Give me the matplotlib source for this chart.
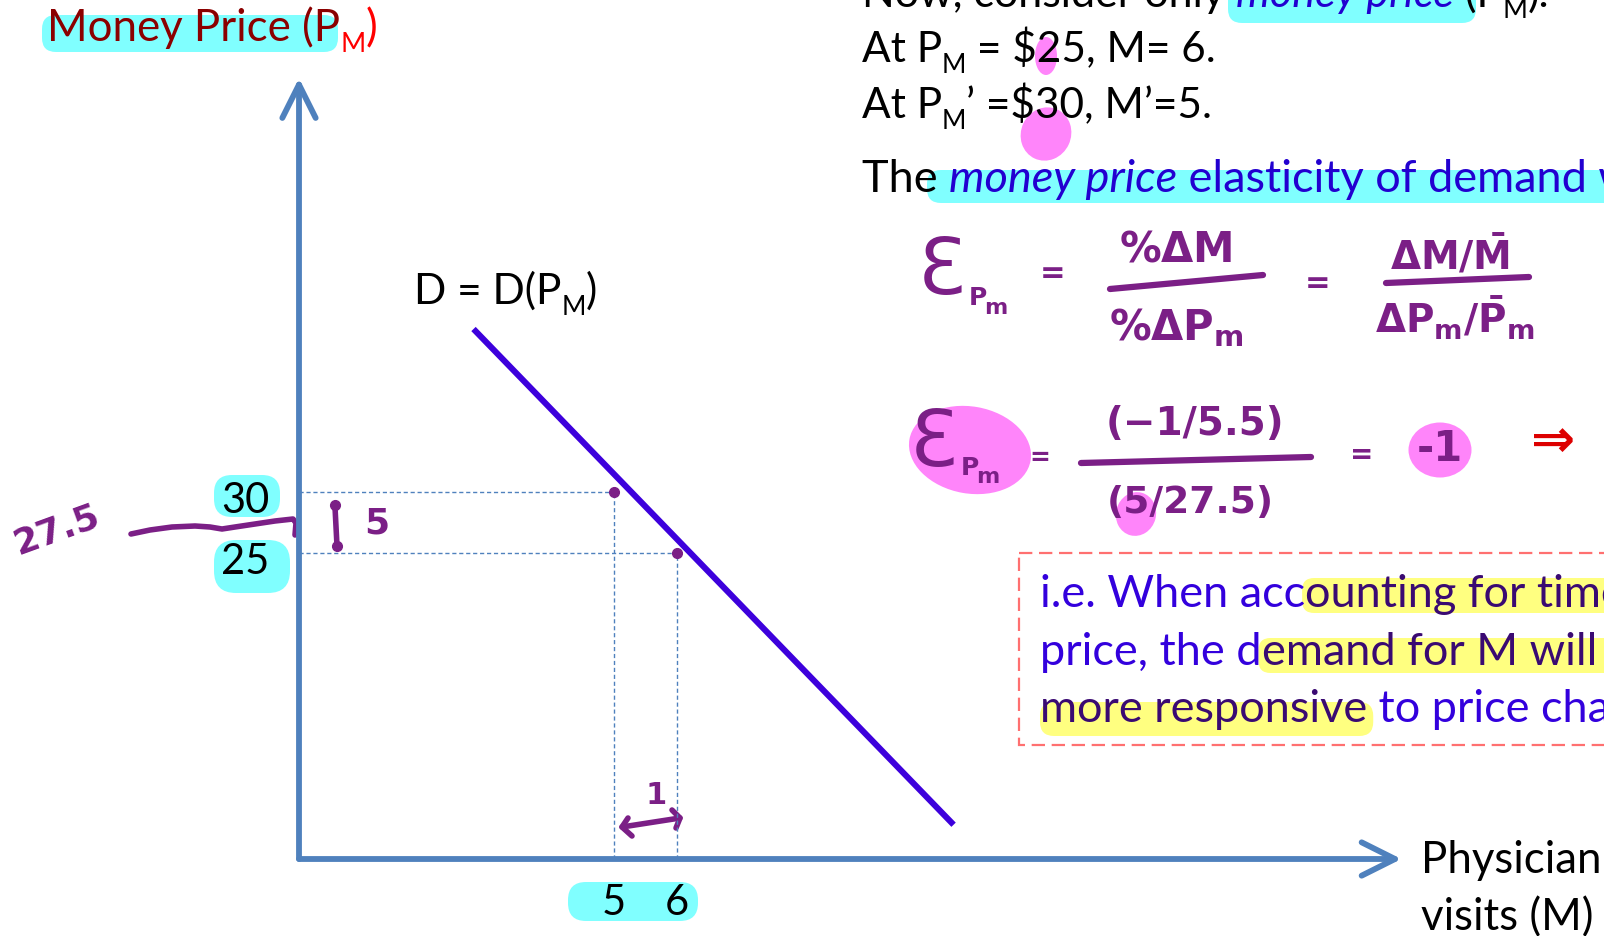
import matplotlib
matplotlib.use('Agg')
import matplotlib.pyplot as plt
from matplotlib.patches import FancyBboxPatch, Ellipse, Rectangle
from matplotlib.transforms import offset_copy

# demand for physician visits against the money price
visits = [5, 6]
prices = [30, 25]
demand_m = [2.77, 10.39]
demand_p = [43.3, 2.8]
axis_end_m = 17.5
axis_end_p = 63.8

AXIS = '#4F81BD'
DEMAND = '#3D00DC'
PEN = '#7B1F86'
CYAN = '#80FFFF'
PINK = '#FF85FA'
YELLOW = '#FFFF80'
BLUE = '#3300DD'
BLUE_HL = '#2200D0'
BLUE_YL = '#3A0A72'
FONT = 'Lato'

plt.rcParams['mathtext.fontset'] = 'dejavusans'

W, H = 1604, 936
fig = plt.figure(figsize=(W / 100, H / 100), dpi=100)

# slide layer in pixels, origin top left
sl = fig.add_axes([0, 0, 1, 1])
sl.set_xlim(0, W)
sl.set_ylim(H, 0)
sl.axis('off')

# diagram layer in data units
gx0, gy0, sx, sy = 299, 859, 63.0, 12.24
ax = fig.add_axes([0, 0, 1, 1])
ax.set_xlim(-gx0 / sx, (W - gx0) / sx)
ax.set_ylim(-(H - gy0) / sy, gy0 / sy)
ax.axis('off')
ax.patch.set_alpha(0)

renderer = fig.canvas.get_renderer()


def blob(x0, y0, x1, y1, color, r=14):
    sl.add_patch(FancyBboxPatch((x0, y0), x1 - x0, y1 - y0,
                                boxstyle=f'round,pad=0,rounding_size={r}',
                                fc=color, ec='none', zorder=1))


def spot(x, y, w, h, angle=0, color=PINK):
    sl.add_patch(Ellipse((x, y), w, h, angle=angle, fc=color, ec='none', zorder=1))


def chain(x, y, parts, size=30):
    """Write text runs one after another, returns the span of each run."""
    spans = []
    for s, kw in parts:
        kw = dict(kw)
        sub = kw.pop('sub', False)
        fs = size * 0.62 if sub else size
        yy = y + (11 if sub else 0)
        t = sl.text(x, yy, s, fontsize=fs, family=FONT, va='baseline', ha='left',
                    zorder=3, **kw)
        w = t.get_window_extent(renderer).width
        spans.append((x, x + w))
        x += w
    return spans


def pen(x, y, s, size=28, **kw):
    kw.setdefault('color', PEN)
    kw.setdefault('fontweight', 'bold')
    sl.text(x, y, s, fontsize=size, family='DejaVu Sans',
            ha='center', va='center', zorder=4, **kw)


def stroke(pts, lw=4, color=PEN):
    xs, ys = zip(*pts)
    sl.plot(xs, ys, color=color, lw=lw, solid_capstyle='round',
            solid_joinstyle='round', zorder=4)


# axis title
blob(42, 15, 338, 52, CYAN)
chain(47, 41, [('Money Price (P', dict(color='#8B0000')),
               ('M', dict(color='red', sub=True)),
               (')', dict(color='red'))], size=31.5)

# curve label
chain(414, 304, [('D = D(P', {}), ('M', dict(sub=True)), (')', {})], size=30.5)

# axes with open arrow heads
arrow = dict(arrowstyle='->,head_length=1.2,head_width=0.6', lw=4.2, color=AXIS,
             shrinkA=0, shrinkB=0, mutation_scale=20, capstyle='round',
             joinstyle='round')
ax.annotate('', xy=(axis_end_m, 0), xytext=(0, 0), arrowprops=arrow)
ax.annotate('', xy=(0, axis_end_p), xytext=(0, 0), arrowprops=arrow)

# demand curve
ax.plot(demand_m, demand_p, color=DEMAND, lw=4.4, solid_capstyle='butt', zorder=3)

# guides from the two observed points
for m, p in zip(visits, prices):
    ax.plot([0, m], [p, p], color=AXIS, lw=1.0, ls=(0, (3, 2)), zorder=2)
    ax.plot([m, m], [0, p], color=AXIS, lw=1.0, ls=(0, (3, 2)), zorder=2)
ax.plot(visits, prices, 'o', ms=7, color=PEN, zorder=4)

# tick labels
blob(214, 475, 280, 517, CYAN, r=18)
blob(214, 540, 290, 593, CYAN, r=22)
blob(568, 882, 698, 921, CYAN, r=18)
ylab = offset_copy(ax.transData, fig, x=-54, y=-9, units='dots')
for p in prices:
    ax.text(0, p, str(p), transform=ylab, ha='center', va='center',
            fontsize=30, family=FONT, zorder=5)
xlab = offset_copy(ax.transData, fig, y=-56, units='dots')
for m in visits:
    ax.text(m, 0, str(m), transform=xlab, ha='center', va='baseline',
            fontsize=30, family=FONT, zorder=5)

# horizontal axis title
sl.text(1421, 873, 'Physician', fontsize=31.5, family=FONT, va='baseline')
sl.text(1421, 930, 'visits (M)', fontsize=31.5, family=FONT, va='baseline')

# slide text, top right
blob(1228, -20, 1476, 23, CYAN)
chain(862, 7, [('Now, consider only ', {}),
               ('money price', dict(color=BLUE_HL, style='italic')),
               (' (P', {}), ('M', dict(sub=True)), (').', {})], size=31)
spot(1046, 56, 22, 38)
spot(1046, 134, 50, 54, angle=25)
chain(862, 62, [('At P', {}), ('M', dict(sub=True)), (' = $25, M= 6.', {})], size=30.5)
chain(862, 118, [('At P', {}), ('M', dict(sub=True)), ('’ =$30, M’=5.', {})], size=30.5)
blob(927, 170, 1640, 203, CYAN)
chain(862, 192, [('The ', {}),
                 ('money price', dict(color=BLUE_HL, style='italic')),
                 (' elasticity of demand will be', dict(color=BLUE_HL))], size=32.5)

# boxed remark
sl.add_patch(Rectangle((1019, 553), 700, 192, fill=False, ec='#FF7070', lw=1.6,
                       ls=(0, (6, 3)), zorder=2))
sp = chain(1040, 607, [('i.e. When acc', dict(color=BLUE)),
                       ('ounting for time', dict(color=BLUE_YL))], size=32.5)
blob(sp[1][0] - 3, 578, 1660, 613, YELLOW, r=12)
sp = chain(1040, 665, [('price, the d', dict(color=BLUE)),
                       ('emand for M will be', dict(color=BLUE_YL))], size=32.5)
blob(sp[1][0] - 3, 638, 1660, 673, YELLOW, r=12)
sp = chain(1040, 722, [('more responsive', dict(color=BLUE_YL)),
                       (' to price changes', dict(color=BLUE))], size=32.5)
blob(sp[0][0], 702, sp[0][1] + 6, 736, YELLOW, r=14)

# elasticity definition
pen(942, 272, 'Ɛ', size=56, fontweight='normal')
pen(978, 298, 'P', size=18)
pen(996, 308, 'm', size=16)
pen(1053, 274, '=', size=22)
pen(1176, 250, r'$\mathbf{\%\Delta M}$', size=30)
stroke([(1110, 289), (1263, 275)], lw=4.5)
pen(1176, 328, r'$\mathbf{\%\Delta P_m}$', size=30)
pen(1318, 283, '=', size=22)
pen(1450, 255, r'$\mathbf{\Delta M/\bar{M}}$', size=28)
stroke([(1386, 283), (1529, 277)], lw=4.5)
pen(1455, 318, r'$\mathbf{\Delta P_m/\bar{P}_m}$', size=28)

# elasticity from the midpoints
spot(970, 450, 123, 87, angle=10)
pen(934, 444, 'Ɛ', size=56, fontweight='normal')
pen(970, 468, 'P', size=18)
pen(988, 477, 'm', size=16)
pen(1040, 458, '=', size=18)
pen(1195, 424, '(−1/5.5)', size=28)
stroke([(1081, 463), (1311, 457)], lw=4.5)
spot(1136, 514, 40, 44, angle=15)
pen(1190, 503, '(5/27.5)', size=27)
pen(1362, 455, '=', size=20)
spot(1440, 450, 63, 55)
pen(1440, 449, '-1', size=30)
pen(1553, 442, '⇒', size=38, color='#DD0000')

# notes on the diagram
pen(56, 530, '27.5', size=26, rotation=20)
stroke([(131, 534), (150, 530), (172, 527), (195, 526), (210, 527), (222, 529),
        (235, 527), (255, 524), (275, 521), (293, 519), (296, 523), (295, 535)])
stroke([(335, 507), (337, 546)])
sl.plot([335, 337], [505, 546], 'o', ms=7, color=PEN, zorder=4)
pen(377, 524, '5', size=26)
stroke([(628, 818), (622, 827), (632, 836)])
stroke([(622, 827), (680, 818)])
stroke([(672, 810), (680, 818), (676, 828)])
pen(656, 795, '1', size=22)

fig.savefig('out.png', dpi=100)
